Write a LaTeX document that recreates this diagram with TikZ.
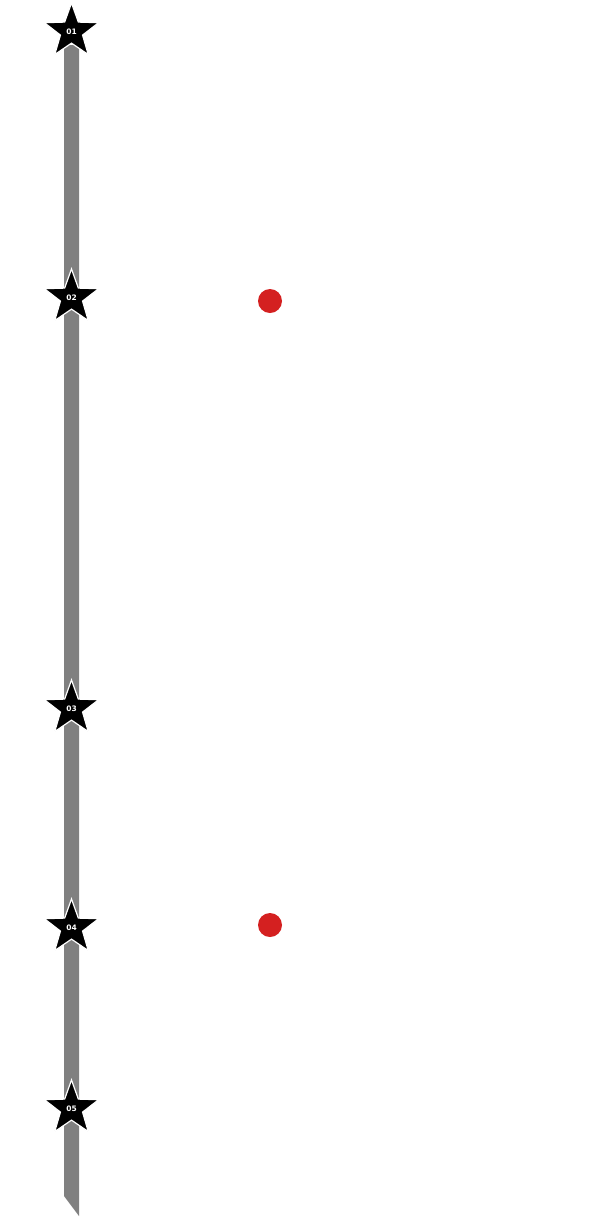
\documentclass[tikz,border=0pt]{standalone}
\usepackage{fontspec}
\setmainfont{DejaVu Sans}
\usetikzlibrary{shapes.geometric}
\definecolor{bargrey}{HTML}{808080}
\definecolor{dotred}{HTML}{D42020}
\begin{document}
\begin{tikzpicture}[x=1pt,y=-1pt,
  milestone/.style={star, star points=5, star point ratio=2.45, shape border rotate=0,
    draw=white, line width=1.2pt, fill=black, inner sep=0pt, minimum size=57pt},
  steplabel/.style={text=white, font=\fontsize{7.5}{8}\selectfont\bfseries, inner sep=0pt},
  reddot/.style={circle, fill=dotred, inner sep=0pt, minimum size=24pt}]
\useasboundingbox (0,0) rectangle (600,1219);
\fill[bargrey] (64,45) -- (79,45) -- (79,1216) -- (64,1196) -- cycle;
\node[milestone] (s1) at (71.5,31.5) {};
\node[milestone] (s2) at (71.5,297.5) {};
\node[milestone] (s3) at (71.5,708.5) {};
\node[milestone] (s4) at (71.5,927.5) {};
\node[milestone] (s5) at (71.5,1108.5) {};
\node[steplabel] (l1) at (s1.center) {01};
\node[steplabel] (l2) at (s2.center) {02};
\node[steplabel] (l3) at (s3.center) {03};
\node[steplabel] (l4) at (s4.center) {04};
\node[steplabel] (l5) at (s5.center) {05};
\node[reddot] (d1) at (270,301) {};
\node[reddot] (d2) at (270,925) {};
\end{tikzpicture}
\end{document}
